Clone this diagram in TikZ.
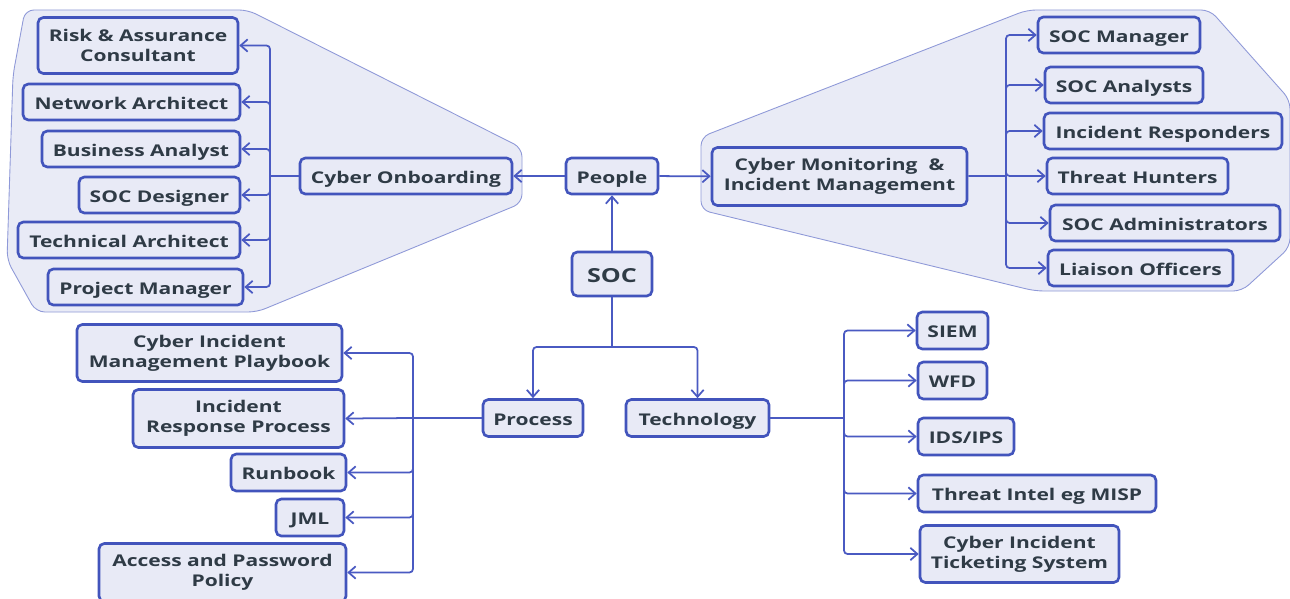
\documentclass[tikz,border=0pt]{standalone}
\usepackage{fontspec}
\setmainfont{Open Sans}[FakeStretch=1.3]
\usetikzlibrary{arrows.meta}
\definecolor{boxline}{HTML}{4254BC}
\definecolor{boxfill}{HTML}{E8EAF6}
\definecolor{zonefill}{HTML}{E9EBF6}
\definecolor{zoneline}{HTML}{8F99D8}
\definecolor{textgray}{HTML}{2F3B46}
\definecolor{linkblue}{HTML}{4A5AC2}

\begin{document}
\begin{tikzpicture}[x=0.02cm,y=-0.02cm,
	box/.style={align=center, draw=boxline, fill=boxfill, line width=1.5pt, rounded corners=3pt, text=textgray, font=\bfseries\fontsize{9.2}{11.4}\selectfont, inner sep=2pt, minimum height=0.72cm, text height=8.5pt, text depth=0pt},
	tall/.style={text height=, text depth=, minimum height=1.14cm},
	link/.style={draw=linkblue, line width=1pt, rounded corners=2pt},
	arrow/.style={link, -{Straight Barb[length=4pt,width=7pt]}},
	zone/.style={draw=zoneline, fill=zonefill, line width=0.5pt, rounded corners=5pt}]
			\fill[white] (0,0) rectangle (1290,598);
			\useasboundingbox (0,0) rectangle (1290,598);
			% shaded zones
			\draw[zone] (25,10) -- (248,10) -- (522,148) -- (522,203) -- (257,312) -- (36,312) -- (7,260) -- (13,75) -- cycle;
			\draw[zone] (701,137) -- (1027,10) -- (1210,10) -- (1290,100) -- (1290,247) -- (1242,291) -- (1035,291) -- (701,210) -- cycle;
			% people
			\node[box, tall, minimum width=4.0cm, minimum height=1.12cm] at (138,45.5) (risk) {Risk \& Assurance\\Consultant};
			\node[box, minimum width=4.34cm] at (131.5,102) (net-arch) {Network Architect};
			\node[box, minimum width=3.96cm] at (141,149) (bus-an) {Business Analyst};
			\node[box, minimum width=3.22cm] at (159.5,195) (soc-des) {SOC Designer};
			\node[box, minimum width=4.44cm] at (129,240) (tech-arch) {Technical Architect};
			\node[box, minimum width=3.9cm] at (145.5,287) (proj-man) {Project Manager};
			\node[box, minimum width=4.24cm] at (406,176) (onboard) {Cyber Onboarding};
			\node[box, minimum width=1.84cm] at (612,176) (people) {People};
			\node[box, minimum width=1.6cm, minimum height=0.88cm, text height=10pt, font=\bfseries\fontsize{11}{13}\selectfont] at (612,274) (soc) {SOC};
			\node[box, tall, minimum width=5.1cm, minimum height=1.16cm] at (839.5,176.5) (monitor) {Cyber Monitoring\ \ \&\\Incident Management};
			\node[box, minimum width=3.24cm] at (1119,35) (soc-man) {SOC Manager};
			\node[box, minimum width=3.16cm] at (1124,85) (soc-an) {SOC Analysts};
			\node[box, minimum width=4.76cm] at (1163,131) (inc-resp) {Incident Responders};
			\node[box, minimum width=3.62cm] at (1137.5,176) (threat-hunt) {Threat Hunters};
			\node[box, minimum width=4.6cm] at (1165,223) (soc-adm) {SOC Administrators};
			\node[box, minimum width=3.7cm] at (1140.5,268) (liaison) {Liaison Officers};
			% process
			\node[box, minimum width=2.0cm, minimum height=0.74cm] at (533,418) (process) {Process};
			\node[box, tall, minimum width=5.3cm] at (209.5,353) (playbook) {Cyber Incident\\Management Playbook};
			\node[box, tall, minimum width=4.22cm, minimum height=1.16cm] at (238.5,418.5) (ir-proc) {Incident\\Response Process};
			\node[box, minimum width=2.3cm, minimum height=0.74cm] at (288.5,472.5) (runbook) {Runbook};
			\node[box, minimum width=1.36cm, minimum height=0.74cm] at (310,517.5) (jml) {JML};
			\node[box, tall, minimum width=4.94cm, minimum height=1.16cm] at (222.5,572.5) (access) {Access and Password\\Policy};
			% technology
			\node[box, minimum width=2.86cm, minimum height=0.74cm] at (697.5,418) (tech) {Technology};
			\node[box, minimum width=1.42cm, minimum height=0.74cm] at (952.5,330.5) (siem) {SIEM};
			\node[box, minimum width=1.38cm, minimum height=0.74cm] at (952.5,380.5) (wfd) {WFD};
			\node[box, minimum width=1.92cm, minimum height=0.74cm] at (966,436.5) (ids) {IDS/IPS};
			\node[box, minimum width=4.76cm, minimum height=0.74cm] at (1037,493.5) (intel) {Threat Intel eg MISP};
			\node[box, tall, minimum width=3.98cm] at (1019.5,554) (ticket) {Cyber Incident\\Ticketing System};
			% connectors
			\coordinate (onboard-bus) at (270,176);
			\coordinate (monitor-bus) at (1006,176);
			\coordinate (soc-split) at (612,347);
			\coordinate (process-bus) at (413,418);
			\coordinate (tech-bus) at (844,418);
			\draw[arrow] (soc) -- (people);
			\draw[arrow] (people) -- (onboard);
			\draw[arrow] (people) -- (monitor);
			\draw[link] (onboard) -- (onboard-bus);
			\draw[arrow] (onboard-bus) |- (risk.east);
			\draw[arrow] (onboard-bus) |- (net-arch.east);
			\draw[arrow] (onboard-bus) |- (bus-an.east);
			\draw[arrow] (onboard-bus) |- (soc-des.east);
			\draw[arrow] (onboard-bus) |- (tech-arch.east);
			\draw[arrow] (onboard-bus) |- (proj-man.east);
			\draw[link] (monitor) -- (monitor-bus);
			\draw[arrow] (monitor-bus) |- (soc-man.west);
			\draw[arrow] (monitor-bus) |- (soc-an.west);
			\draw[arrow] (monitor-bus) |- (inc-resp.west);
			\draw[arrow] (monitor-bus) |- (threat-hunt.west);
			\draw[arrow] (monitor-bus) |- (soc-adm.west);
			\draw[arrow] (monitor-bus) |- (liaison.west);
			\draw[link] (soc) -- (soc-split);
			\draw[arrow] (soc-split) -| (process);
			\draw[arrow] (soc-split) -| (tech);
			\draw[link] (process) -- (process-bus);
			\draw[arrow] (process-bus) |- (playbook.east);
			\draw[arrow] (process-bus) -- (ir-proc.east);
			\draw[arrow] (process-bus) |- (runbook.east);
			\draw[arrow] (process-bus) |- (jml.east);
			\draw[arrow] (process-bus) |- (access.east);
			\draw[link] (tech) -- (tech-bus);
			\draw[arrow] (tech-bus) |- (siem.west);
			\draw[arrow] (tech-bus) |- (wfd.west);
			\draw[arrow] (tech-bus) |- (ids.west);
			\draw[arrow] (tech-bus) |- (intel.west);
			\draw[arrow] (tech-bus) |- (ticket.west);
		\end{tikzpicture}
\end{document}
